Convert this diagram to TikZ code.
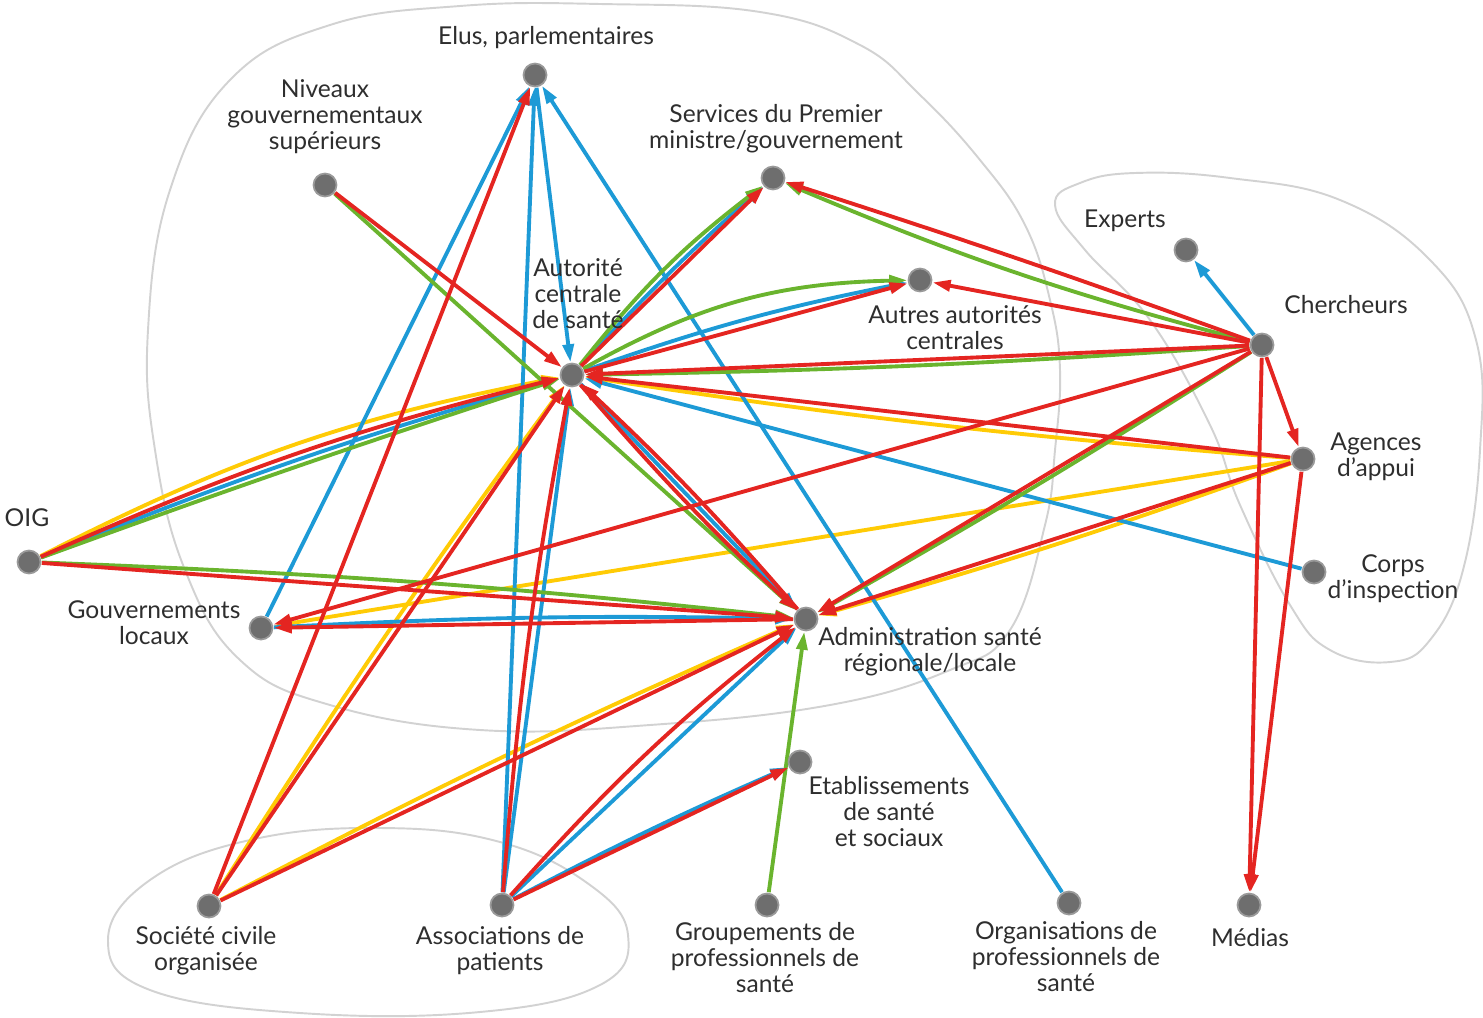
\documentclass[tikz,border=0pt]{standalone}
\usepackage{fontspec}
\setmainfont{Lato}
\usetikzlibrary{arrows.meta}
\definecolor{cR}{HTML}{E42521}
\definecolor{cB}{HTML}{1D9AD6}
\definecolor{cG}{HTML}{6AB42E}
\definecolor{cY}{HTML}{FFCB05}
\definecolor{dotc}{HTML}{6E6E6E}
\definecolor{dotr}{HTML}{9A9A9A}
\definecolor{ringc}{HTML}{D2D2D2}
\definecolor{txt}{HTML}{2E2E2E}
\tikzset{
 ln/.style={line width=2.2pt, -{Triangle[length=0.36cm,width=0.22cm]}},
 rd/.style={ln, cR},
 bl/.style={ln, cB},
 gn/.style={ln, cG},
 yl/.style={ln, cY},
 pt/.style={circle, minimum size=0.5cm, inner sep=0pt},
 lbl/.style={align=center, inner sep=0pt, text=txt, font=\fontsize{14}{14.8}\selectfont},
 ring/.style={draw=ringc, line width=1.1pt}
}
\begin{document}
\begin{tikzpicture}[x=0.02cm,y=-0.02cm]
\useasboundingbox (0,0) rectangle (1483,1017);
% group outlines
\draw[ring] plot[smooth cycle, tension=0.7] coordinates {(600,4) (760,12) (860,45) (920,95) (980,160) (1025,225) (1050,300) (1060,370) (1055,450) (1045,525) (1010,630) (950,670) (830,705) (650,725) (480,730) (330,705) (240,660) (185,570) (155,450) (148,330) (170,190) (230,80) (330,25) (460,6)};
\draw[ring] plot[smooth cycle, tension=0.7] coordinates {(1055,205) (1080,183) (1135,173) (1230,178) (1340,200) (1430,260) (1476,340) (1480,450) (1463,570) (1430,640) (1390,662) (1330,650) (1290,605) (1240,505) (1210,425) (1150,320) (1085,250)};
\draw[ring] plot[smooth cycle, tension=0.7] coordinates {(108,940) (150,880) (250,840) (380,828) (500,842) (590,885) (628,935) (600,985) (480,1012) (300,1013) (150,990)};
% points
\node[pt] (EL) at (535,75) {};
\node[pt] (NG) at (325,185) {};
\node[pt] (SP) at (773,178) {};
\node[pt] (EX) at (1186,250) {};
\node[pt] (AA) at (920,280) {};
\node[pt] (CH) at (1262,345) {};
\node[pt] (AC) at (572,375) {};
\node[pt] (AG) at (1303,459) {};
\node[pt] (OIG) at (29,562) {};
\node[pt] (CI) at (1314,572) {};
\node[pt] (GL) at (261,628) {};
\node[pt] (AD) at (806,619) {};
\node[pt] (ET) at (800,762) {};
\node[pt] (SC) at (209,906) {};
\node[pt] (AS) at (502,905) {};
\node[pt] (GR) at (767,905) {};
\node[pt] (OR) at (1069,903) {};
\node[pt] (ME) at (1249,905) {};
% yellow
\draw[yl] (OIG) to[bend left=8] (AC);
\draw[yl] (AG) to[bend left=2] (AC);
\draw[yl] (AG) -- (GL);
\draw[yl] (AG) to[bend left=2] (AD);
\draw[yl] (SC) to[bend left=2] (AC);
\draw[yl] (SC) to[bend left=2] (AD);
% blue
\draw[bl] (OIG) to[bend left=3] (AC);
\draw[bl] (EL) -- (AC);
\draw[bl] (AC) to[bend left=3] (SP);
\draw[bl] (AC) to[bend left=4] (AA);
\draw[bl] (CI) -- (AC);
\draw[bl] (AC) -- (AD);
\draw[bl] (GL) to[bend left=2] (AD);
\draw[bl] (GL) -- (EL);
\draw[bl] (AS) -- (EL);
\draw[bl] (AS) -- (AC);
\draw[bl] (AS) -- (AD);
\draw[bl] (AS) to[bend left=2] (ET);
\draw[bl] (OR) -- (EL);
\draw[bl] (CH) -- (EX);
% green
\draw[gn] (OIG) to[bend left=1] (AC);
\draw[gn] (OIG) to[bend left=2] (AD);
\draw[gn] (NG) -- (AD);
\draw[gn] (AC) to[bend left=7] (SP);
\draw[gn] (AC) to[bend left=14] (AA);
\draw[gn] (CH) to[bend left=4] (SP);
\draw[gn] (CH) to[bend left=1.5] (AC);
\draw[gn] (CH) to[bend left=1.5] (AD);
\draw[gn] (GR) -- (AD);
% red
\draw[rd] (OIG) to[bend left=5] (AC);
\draw[rd] (OIG) -- (AD);
\draw[rd] (NG) -- (AC);
\draw[rd] (AC) -- (SP);
\draw[rd] (AC) -- (AA);
\draw[rd] (CH) to[bend right=1] (SP);
\draw[rd] (CH) -- (AA);
\draw[rd] (CH) -- (AC);
\draw[rd] (CH) -- (GL);
\draw[rd] (CH) -- (AD);
\draw[rd] (CH) -- (AG);
\draw[rd] (CH) -- (ME);
\draw[rd] (AG) -- (AC);
\draw[rd] (AG) -- (AD);
\draw[rd] (AG) -- (ME);
\draw[rd] (AD) -- (GL);
\draw[rd] (AD) to[bend right=3] (AC);
\draw[rd] (AC) to[bend right=3] (AD);
\draw[rd] (SC) -- (EL);
\draw[rd] (SC) -- (AC);
\draw[rd] (SC) -- (AD);
\draw[rd] (AS) to[bend left=3] (AC);
\draw[rd] (AS) to[bend left=5] (AD);
\draw[rd] (AS) -- (ET);
% dots on top
\foreach \n in {EL,NG,SP,EX,AA,CH,AC,AG,OIG,CI,GL,AD,ET,SC,AS,GR,OR,ME}
  \filldraw[fill=dotc, draw=dotr, line width=1pt] (\n) circle (0.23cm);
% labels
\node[lbl] (lEL) at (546,38) {Elus, parlementaires};
\node[lbl] (lNG) at (325,117) {Niveaux\\gouvernementaux\\supérieurs};
\node[lbl] (lSP) at (776,129) {Services du Premier\\ministre/gouvernement};
\node[lbl] (lEX) at (1125,221) {Experts};
\node[lbl] (lCH) at (1346,305) {Chercheurs};
\node[lbl] (lAC) at (578,294) {Autorité\\centrale\\de santé};
\node[lbl] (lAA) at (955,328) {Autres autorités\\centrales};
\node[lbl] (lAG) at (1376,457) {Agences\\d'appui};
\node[lbl] (lOIG) at (27,518) {OIG};
\node[lbl] (lCI) at (1393,579) {Corps\\d'inspection};
\node[lbl] (lGL) at (154,623) {Gouvernements\\locaux};
\node[lbl] (lAD) at (930,652) {Administration santé\\régionale/locale};
\node[lbl] (lET) at (889,812) {Etablissements\\de santé\\et sociaux};
\node[lbl] (lSC) at (206,951) {Société civile\\organisée};
\node[lbl] (lAS) at (500,951) {Associations de\\patients};
\node[lbl] (lGR) at (765,958) {Groupements de\\professionnels de\\santé};
\node[lbl] (lOR) at (1066,957) {Organisations de\\professionnels de\\santé};
\node[lbl] (lME) at (1250,938) {Médias};
\end{tikzpicture}
\end{document}
